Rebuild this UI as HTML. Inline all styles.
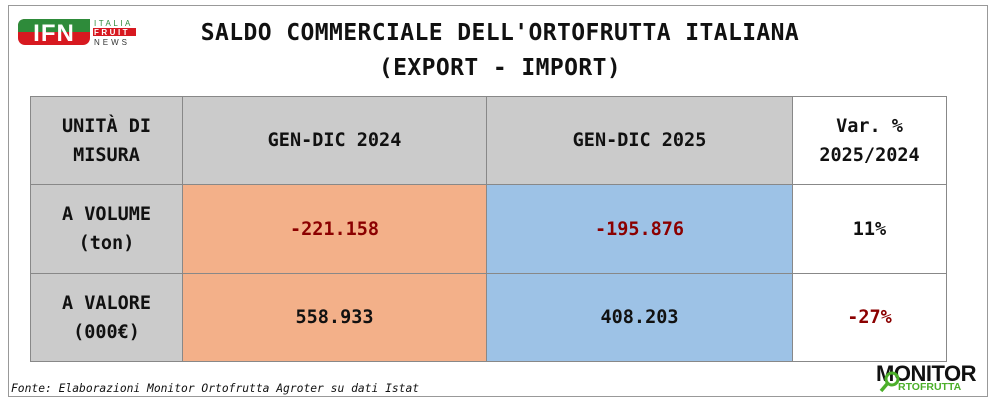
<!DOCTYPE html>
<html><head><meta charset="utf-8"><style>
body{margin:0;width:1000px;height:406px;background:#fff;position:relative;overflow:hidden;font-family:"DejaVu Sans Mono","Liberation Mono",monospace}
.frame{position:absolute;left:8px;top:5px;width:980px;height:392px;border:1px solid #999;box-sizing:border-box}
.title{position:absolute;left:0;width:1000px;text-align:center;font-size:23px;font-weight:bold;color:#111;letter-spacing:0.4px}
table{position:absolute;left:30px;top:96px;border-collapse:collapse}
td{border:1px solid #888;text-align:center;font-weight:bold;font-size:18.5px;line-height:29px;padding:0;color:#111}
.g{background:#cbcbcb}.o{background:#f3b089}.b{background:#9dc2e6}.r{color:#8b0000}
.fonte{position:absolute;left:11px;top:382px;font-style:italic;font-size:11.3px;color:#111}
</style></head><body>
<div class="frame"></div>
<svg style="position:absolute;left:17px;top:17px" width="125" height="30">
<rect x="1" y="2" width="72" height="26" rx="7" fill="#d71920"/>
<path d="M1 15 V9 Q1 2 8 2 H73 V15 Z" fill="#2e8b3a"/>
<text x="37" y="24" font-family="Liberation Sans" font-weight="bold" font-size="24" fill="#fff" text-anchor="middle" letter-spacing="1">IFN</text>
<text x="77" y="9" font-family="Liberation Sans" font-size="8" fill="#2e8b3a" letter-spacing="2.5">ITALIA</text>
<rect x="76" y="11" width="43" height="8" fill="#d71920"/>
<text x="77" y="18" font-family="Liberation Sans" font-weight="bold" font-size="8" fill="#fff" letter-spacing="2.5">FRUIT</text>
<text x="77" y="28" font-family="Liberation Sans" font-size="8" fill="#333" letter-spacing="3">NEWS</text>
</svg>
<div class="title" style="top:20px">SALDO COMMERCIALE DELL'ORTOFRUTTA ITALIANA</div>
<div class="title" style="top:55px">(EXPORT - IMPORT)</div>
<table>
<tr style="height:88px"><td class="g" style="width:151px">UNITÀ DI<br>MISURA</td><td class="g" style="width:303px">GEN-DIC 2024</td><td class="g" style="width:305px">GEN-DIC 2025</td><td style="width:153px">Var. %<br>2025/2024</td></tr>
<tr style="height:89px"><td class="g">A VOLUME<br>(ton)</td><td class="o r">-221.158</td><td class="b r">-195.876</td><td>11%</td></tr>
<tr style="height:88px"><td class="g">A VALORE<br>(000€)</td><td class="o">558.933</td><td class="b">408.203</td><td class="r">-27%</td></tr>
</table>
<div class="fonte">Fonte: Elaborazioni Monitor Ortofrutta Agroter su dati Istat</div>
<div style="position:absolute;left:876px;top:361px;font-family:'Liberation Sans';font-weight:900;font-size:22px;color:#111;letter-spacing:-0.5px">MONITOR</div>
<div style="position:absolute;left:898px;top:381px;font-family:'Liberation Sans';font-weight:bold;font-size:10.5px;color:#4caf2a">RTOFRUTTA</div>
<svg style="position:absolute;left:878px;top:370px" width="24" height="24"><circle cx="14" cy="9" r="6" fill="none" stroke="#4caf2a" stroke-width="3"/><line x1="9" y1="14" x2="3" y2="21" stroke="#4caf2a" stroke-width="3.5"/></svg>
</body></html>
